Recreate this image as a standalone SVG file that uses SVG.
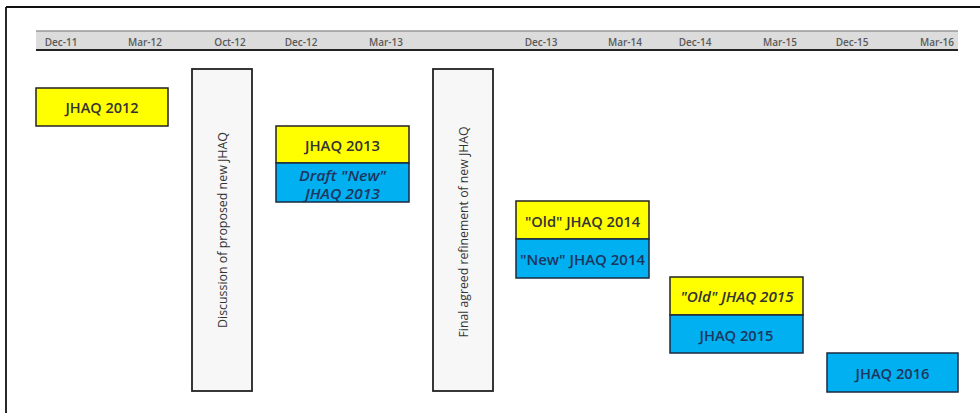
<svg xmlns="http://www.w3.org/2000/svg" width="980" height="413" viewBox="0 0 980 413">
<style>
text{font-family:"Liberation Sans",Arial,sans-serif}
.hdr{font-family:"Open Sans","Liberation Sans",sans-serif;font-size:10px;font-weight:600;fill:#5a5a5a;text-anchor:middle}
.lbl{font-family:"Open Sans","Liberation Sans",sans-serif;font-size:14.5px;font-weight:600;text-anchor:middle;dominant-baseline:central}
.dk{fill:#333}
.nv{fill:#1c3660}
.it{font-style:italic}
.y{fill:#ffff00;stroke:#222;stroke-width:1.5}
.b{fill:#00b0f0;stroke:#1a2a40;stroke-width:1.5}
.p{fill:#f7f7f7;stroke:#222;stroke-width:1.8}
.rot{font-family:"Open Sans","Liberation Sans",sans-serif;font-size:12.5px;fill:#333;text-anchor:middle;dominant-baseline:central}
</style>
<rect width="980" height="413" fill="#fff"/>
<g id="frame">
<line x1="6" y1="7" x2="980" y2="7" stroke="#111" stroke-width="1.8"/>
<line x1="6" y1="7" x2="6" y2="413" stroke="#111" stroke-width="1.8"/>
</g>
<g id="timeline">
<rect x="36" y="31" width="922" height="19" fill="#dcdcdc"/>
<line x1="36" y1="31" x2="958" y2="31" stroke="#999" stroke-width="1.5"/>
<line x1="36" y1="50" x2="958" y2="50" stroke="#222" stroke-width="2"/>
<text class="hdr" x="61" y="46">Dec-11</text>
<text class="hdr" x="145" y="46">Mar-12</text>
<text class="hdr" x="230" y="46">Oct-12</text>
<text class="hdr" x="301" y="46">Dec-12</text>
<text class="hdr" x="386" y="46">Mar-13</text>
<text class="hdr" x="541" y="46">Dec-13</text>
<text class="hdr" x="625" y="46">Mar-14</text>
<text class="hdr" x="695" y="46">Dec-14</text>
<text class="hdr" x="780" y="46">Mar-15</text>
<text class="hdr" x="852" y="46">Dec-15</text>
<text class="hdr" x="937" y="46">Mar-16</text>
</g>
<g id="jhaq2012">
<rect class="y" x="36" y="88" width="132" height="38"/>
<text class="lbl dk" x="102" y="107" textLength="73" lengthAdjust="spacingAndGlyphs">JHAQ 2012</text>
</g>
<g id="discussion">
<rect class="p" x="192" y="69" width="60" height="322"/>
<text class="rot" transform="translate(222.5,230) rotate(-90)" textLength="196" lengthAdjust="spacingAndGlyphs">Discussion of proposed new JHAQ</text>
</g>
<g id="jhaq2013">
<rect class="y" x="276" y="126" width="133" height="37"/>
<text class="lbl dk" x="342.5" y="145" textLength="75" lengthAdjust="spacingAndGlyphs">JHAQ 2013</text>
</g>
<g id="draft2013">
<rect class="b" x="276" y="163" width="133" height="39"/>
<text class="lbl nv it" x="342.5" y="175" textLength="87" lengthAdjust="spacingAndGlyphs">Draft "New"</text>
<text class="lbl nv it" x="342.5" y="193" textLength="75" lengthAdjust="spacingAndGlyphs">JHAQ 2013</text>
</g>
<g id="final">
<rect class="p" x="433" y="69" width="60" height="322"/>
<text class="rot" transform="translate(463,232) rotate(-90)" textLength="211" lengthAdjust="spacingAndGlyphs">Final agreed refinement of new JHAQ</text>
</g>
<g id="old2014">
<rect class="y" x="516" y="201" width="133" height="38"/>
<text class="lbl dk" x="582.5" y="221" textLength="115" lengthAdjust="spacingAndGlyphs">"Old" JHAQ 2014</text>
</g>
<g id="new2014">
<rect class="b" x="516" y="239" width="133" height="39"/>
<text class="lbl nv" x="582.5" y="259" textLength="125" lengthAdjust="spacingAndGlyphs">"New" JHAQ 2014</text>
</g>
<g id="old2015">
<rect class="y" x="670" y="277" width="133" height="38"/>
<text class="lbl dk it" x="737" y="296" textLength="113" lengthAdjust="spacingAndGlyphs">"Old" JHAQ 2015</text>
</g>
<g id="jhaq2015">
<rect class="b" x="670" y="315" width="133" height="38"/>
<text class="lbl nv" x="736.5" y="335" textLength="74" lengthAdjust="spacingAndGlyphs">JHAQ 2015</text>
</g>
<g id="jhaq2016">
<rect class="b" x="827" y="353" width="131" height="39"/>
<text class="lbl nv" x="892.5" y="373" textLength="74" lengthAdjust="spacingAndGlyphs">JHAQ 2016</text>
</g>
</svg>
